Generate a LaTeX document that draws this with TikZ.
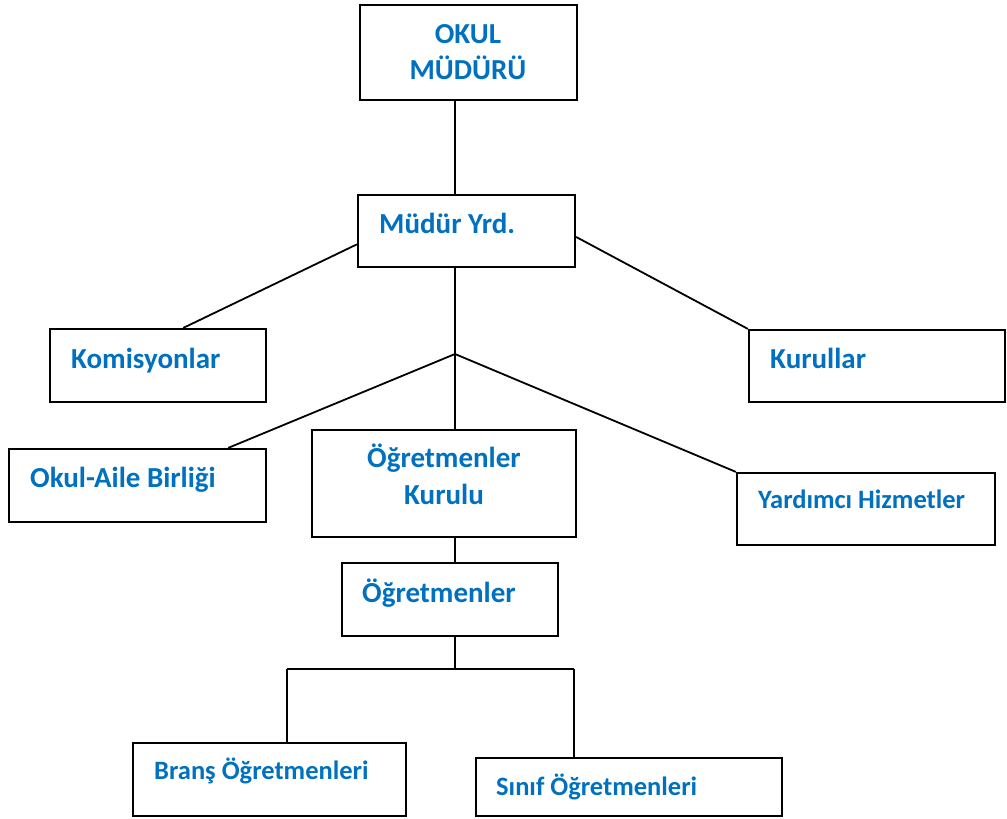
\documentclass[tikz,border=0pt]{standalone}
\usepackage{fontspec}
\setmainfont{Carlito}
\usetikzlibrary{fit,calc}
\definecolor{txtblue}{HTML}{0070C0}
\tikzset{
  orgbox/.style={draw=black, line width=2.2pt, inner sep=0pt, fill=white},
  conn/.style={draw=black, line width=1.8pt},
  lbl/.style={inner sep=0pt, text=txtblue, font=\bfseries\fontsize{29}{35}\selectfont},
  lbls/.style={inner sep=0pt, text=txtblue, font=\bfseries\fontsize{26.5}{32}\selectfont}
}
\begin{document}
\begin{tikzpicture}[x=1pt,y=-1pt]
\useasboundingbox (0,0) rectangle (1007,819);
% coordinates for junctions
\coordinate (j1) at (455,354);
\coordinate (j2) at (455,669);
\coordinate (h1) at (287,669);
\coordinate (h2) at (574,669);
% connectors first (under boxes)
\node[orgbox, fit={(360,5) (577,100)}] (om) {};
\node[orgbox, fit={(358,195) (575,267)}] (my) {};
\node[orgbox, fit={(50,329) (266,402)}] (kom) {};
\node[orgbox, fit={(749,330) (1005,402)}] (kur) {};
\node[orgbox, fit={(9,449) (266,522)}] (oab) {};
\node[orgbox, fit={(312,430) (576,537)}] (ok) {};
\node[orgbox, fit={(737,473) (995,545)}] (yh) {};
\node[orgbox, fit={(342,563) (558,636)}] (og) {};
\node[orgbox, fit={(133,743) (406,816)}] (br) {};
\node[orgbox, fit={(476,758) (782,816)}] (sn) {};
% connectors
\draw[conn] (om.south -| j1) -- (my.north -| j1);
\draw[conn] ($(my.north west)!0.68!(my.south west)$) -- ($(kom.north west)!0.616!(kom.north east)$);
\draw[conn] ($(my.north east)!0.58!(my.south east)$) -- (kur.north west);
\draw[conn] (my.south -| j1) -- (j1);
\draw[conn] (j1) -- ($(oab.north west)!0.85!(oab.north east)$);
\draw[conn] (j1) -- (ok.north -| j1);
\draw[conn] (j1) -- (yh.north west);
\draw[conn] (ok.south -| j1) -- (og.north -| j1);
\draw[conn] (og.south -| j2) -- (j2);
\draw[conn] (h1) -- (h2);
\draw[conn] (h1) -- (br.north -| h1);
\draw[conn] (h2) -- (sn.north -| h2);
% texts
\node[lbl, anchor=base] (t1) at (468,43) {OKUL};
\node[lbl, anchor=base] (t2) at (468,79) {MÜDÜRÜ};
\node[lbl, anchor=base west] (t3) at (379,233) {Müdür Yrd.};
\node[lbl, anchor=base west] (t4) at (71,368) {Komisyonlar};
\node[lbl, anchor=base west] (t5) at (770,368) {Kurullar};
\node[lbl, anchor=base west] (t6) at (30,487) {Okul-Aile Birliği};
\node[lbl, anchor=base] (t7) at (444,467) {Öğretmenler};
\node[lbl, anchor=base] (t8) at (444,504) {Kurulu};
\node[lbls, anchor=base west] (t9) at (758,508) {Yardımcı Hizmetler};
\node[lbl, anchor=base west] (t10) at (362,602) {Öğretmenler};
\node[lbls, anchor=base west] (t11) at (154,779) {Branş Öğretmenleri};
\node[lbls, anchor=base west] (t12) at (496,795) {Sınıf Öğretmenleri};
\end{tikzpicture}
\end{document}
